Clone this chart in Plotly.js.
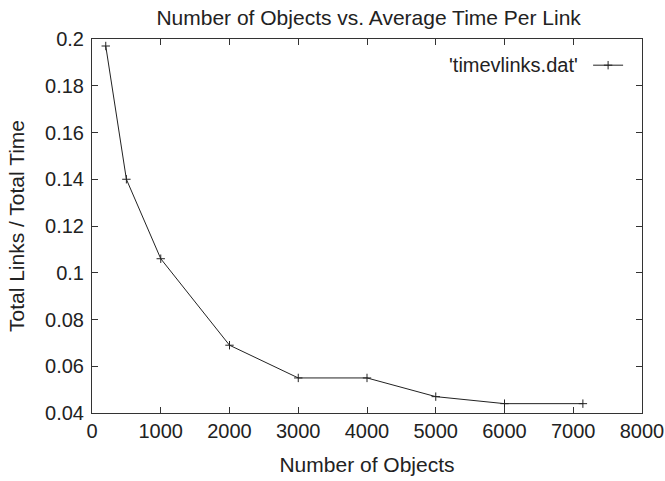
<!DOCTYPE html>
<html>
<head>
<meta charset="utf-8">
<script src="https://cdn.plot.ly/plotly-3.0.1.min.js"></script>
<style>html,body{margin:0;padding:0;background:#fff;}#chart{width:665px;height:481px;}</style>
</head>
<body>
<div id="chart"></div>
<script>
const numObjects = [200, 500, 1000, 2000, 3000, 4000, 5000, 6000, 7140];
const linksPerTime = [0.197, 0.140, 0.106, 0.069, 0.055, 0.055, 0.047, 0.044, 0.044];
const seriesName = "'timevlinks.dat'";
const xTickVals = [0, 1000, 2000, 3000, 4000, 5000, 6000, 7000, 8000];
const yTickVals = [0.04, 0.06, 0.08, 0.1, 0.12, 0.14, 0.16, 0.18, 0.2];
const yTickText = ["0.04", "0.06", "0.08", "0.1", "0.12", "0.14", "0.16", "0.18", "0.2"];

const fam = "Liberation Sans, Arial, sans-serif";
const tickFont = {family: fam, size: 20, color: "#222"};
const titleFont = {family: fam, size: 21, color: "#222"};
const axisCommon = {
  showgrid: false, zeroline: false, showline: true, linecolor: "#333", linewidth: 1,
  mirror: "ticks", ticks: "inside", ticklen: 6, tickcolor: "#333", tickwidth: 1,
  tickfont: tickFont
};

const trace = {
  x: numObjects, y: linksPerTime, type: "scatter", mode: "lines+markers",
  name: " ", showlegend: true,
  line: {color: "#222", width: 1},
  marker: {symbol: "cross-thin-open", size: 6, line: {color: "#222", width: 1}, color: "#222"}
};

const layout = {
  width: 665, height: 481,
  margin: {l: 92, r: 23, t: 39, b: 68},
  paper_bgcolor: "#fff", plot_bgcolor: "#fff",
  font: tickFont,
  title: {text: "Number of Objects vs. Average Time Per Link", font: titleFont, x: 0.503, xref: "paper", xanchor: "center", y: 0.964, yanchor: "middle"},
  xaxis: Object.assign({}, axisCommon, {
    range: [0, 8000], tickvals: xTickVals, ticktext: xTickVals.map(String),
    title: {text: "Number of Objects", font: titleFont, standoff: 16}
  }),
  yaxis: Object.assign({}, axisCommon, {
    range: [0.04, 0.2], tickvals: yTickVals, ticktext: yTickText,
    ticklabelstandoff: 3,
    title: {text: "Total Links / Total Time", font: titleFont, standoff: 14}
  }),
  showlegend: true,
  legend: {x: 0.902, y: 0.93, xanchor: "left", yanchor: "middle", bgcolor: "rgba(0,0,0,0)", font: tickFont},
  annotations: [{
    text: seriesName, xref: "paper", yref: "paper", x: 0.888, y: 0.93,
    xanchor: "right", yanchor: "middle", showarrow: false, font: tickFont
  }]
};

Plotly.newPlot("chart", [trace], layout, {displayModeBar: false, staticPlot: true});
</script>
</body>
</html>
